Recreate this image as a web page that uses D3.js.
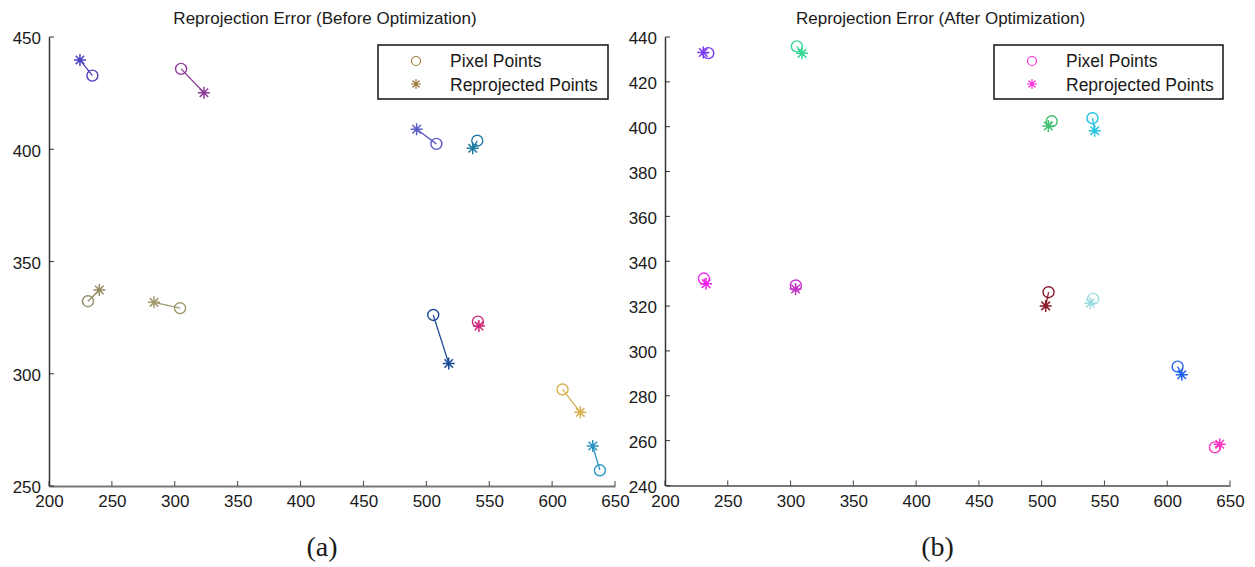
<!DOCTYPE html>
<html>
<head>
<meta charset="utf-8">
<script src="https://cdn.jsdelivr.net/npm/d3@7"></script>
<style>
  html, body { margin: 0; padding: 0; background: #fff; }
  svg { display: block; }
  text { font-family: "Liberation Sans", Arial, sans-serif; fill: #1a1a1a; }
  text.caption { font-family: "Liberation Serif", "Times New Roman", serif; }
</style>
</head>
<body>
<svg id="chart" width="1255" height="567"></svg>
<script>
// ---------------- data ----------------
const xTicks = [200, 250, 300, 350, 400, 450, 500, 550, 600, 650];
const yTicksBefore = [250, 300, 350, 400, 450];
const yTicksAfter = [240, 260, 280, 300, 320, 340, 360, 380, 400, 420, 440];

// measured pixel points (same in both panels)
const pixelX = [234.5, 305, 508, 540.5, 231, 304.2, 505.5, 541, 608.3, 638];
const pixelY = [432.8, 435.8, 402.4, 403.8, 332.3, 329.2, 326.2, 323.2, 293, 257];

// reprojected points before optimization
const beforeX = [224.6, 323.2, 492.3, 536.9, 240, 283.5, 517.8, 541.8, 622.4, 632.3];
const beforeY = [439.8, 425.2, 408.9, 400.4, 337.3, 331.8, 304.6, 321.3, 282.8, 267.8];

// reprojected points after optimization
const afterX = [230.5, 309.1, 505.3, 542.2, 232.7, 304, 503.2, 538.7, 611.6, 641.8];
const afterY = [433.1, 432.7, 400.3, 398.2, 330, 327.6, 320.1, 321.3, 289.4, 258.4];

const colorsBefore = ["#4a3fbd", "#8c3c98", "#5a5ac6", "#1f7aa3", "#958b62", "#a09a70",
                      "#1c4b98", "#d0287a", "#d9b04e", "#2a96c0"];
const colorsAfter = ["#7a3cf0", "#34d894", "#40c070", "#22c4e0", "#f020f0", "#c434c4",
                     "#8b1c2a", "#9cdce2", "#2062f0", "#ff34c4"];
const legendColorBefore = "#9a7a3c";
const legendColorAfter = "#ff30d8";

const titles = ["Reprojection Error (Before Optimization)", "Reprojection Error (After Optimization)"];
const captions = ["(a)", "(b)"];
const legendLabels = ["Pixel Points", "Reprojected Points"];

// ---------------- drawing ----------------
const svg = d3.select("#chart");

function starPath(r) {
  const d = r * 0.7071;
  return `M${-r},0L${r},0M0,${-r}L0,${r}M${-d},${-d}L${d},${d}M${-d},${d}L${d},${-d}`;
}

function panel(cfg) {
  const g = svg.append("g");
  const x = d3.scaleLinear().domain([200, 650]).range([cfg.left, cfg.right]);
  const y = d3.scaleLinear().domain(cfg.yDomain).range([cfg.bottom, cfg.top]);

  // axes
  const xAxis = d3.axisBottom(x).tickValues(xTicks).tickSize(0).tickPadding(9);
  const gx = g.append("g").attr("transform", `translate(0,${cfg.bottom})`).call(xAxis);
  gx.select(".domain").attr("stroke", "#777").attr("stroke-width", 2);
  gx.selectAll("text").attr("font-size", 17).attr("fill", "#1a1a1a")
    .attr("font-family", "Liberation Sans, Arial, sans-serif");
  // inward x ticks
  g.append("g").selectAll("line").data(xTicks).join("line")
    .attr("x1", d => x(d)).attr("x2", d => x(d))
    .attr("y1", cfg.bottom).attr("y2", cfg.bottom - 5)
    .attr("stroke", "#444").attr("stroke-width", 1);

  const yAxis = d3.axisLeft(y).tickValues(cfg.yTicks).tickSize(0).tickPadding(8);
  const gy = g.append("g").attr("transform", `translate(${cfg.left},0)`).call(yAxis);
  gy.select(".domain").attr("stroke", "#333").attr("stroke-width", 1.5);
  gy.selectAll("text").attr("font-size", 17).attr("fill", "#1a1a1a").attr("dy", "0.4em")
    .attr("font-family", "Liberation Sans, Arial, sans-serif");
  g.append("g").selectAll("line").data(cfg.yTicks).join("line")
    .attr("x1", cfg.left).attr("x2", cfg.left + 5)
    .attr("y1", d => y(d)).attr("y2", d => y(d))
    .attr("stroke", "#333").attr("stroke-width", 1);

  // title
  g.append("text").attr("x", (cfg.left + cfg.right) / 2 - 7).attr("y", 24)
    .attr("text-anchor", "middle").attr("font-size", 17).text(cfg.title);

  // caption
  g.append("text").attr("class", "caption")
    .attr("x", (cfg.left + cfg.right) / 2 - 10).attr("y", 556)
    .attr("text-anchor", "middle").attr("font-size", 28)
    .text(cfg.caption);

  // data
  const idx = d3.range(pixelX.length);
  const marks = g.append("g");
  marks.selectAll("line.err").data(idx).join("line").attr("class", "err")
    .attr("x1", i => x(pixelX[i])).attr("y1", i => y(pixelY[i]))
    .attr("x2", i => x(cfg.rx[i])).attr("y2", i => y(cfg.ry[i]))
    .attr("stroke", i => cfg.colors[i]).attr("stroke-width", 1.3);
  marks.selectAll("circle").data(idx).join("circle")
    .attr("cx", i => x(pixelX[i])).attr("cy", i => y(pixelY[i])).attr("r", 5.5)
    .attr("fill", "none").attr("stroke", i => cfg.colors[i]).attr("stroke-width", 1.4);
  marks.selectAll("path.star").data(idx).join("path").attr("class", "star")
    .attr("transform", i => `translate(${x(cfg.rx[i])},${y(cfg.ry[i])})`)
    .attr("d", starPath(6))
    .attr("fill", "none").attr("stroke", i => cfg.colors[i]).attr("stroke-width", 1.5);

  // legend
  const lg = g.append("g");
  lg.append("rect").attr("x", cfg.legendX).attr("y", 45)
    .attr("width", cfg.legendW).attr("height", 54)
    .attr("fill", "#fff").attr("stroke", "#111").attr("stroke-width", 1.5);
  lg.append("circle").attr("cx", cfg.legendX + 38).attr("cy", 61).attr("r", 4.5)
    .attr("fill", "none").attr("stroke", cfg.legendColor).attr("stroke-width", 1.2);
  lg.append("path").attr("transform", `translate(${cfg.legendX + 38},84)`)
    .attr("d", starPath(5)).attr("fill", "none")
    .attr("stroke", cfg.legendColor).attr("stroke-width", 1.2);
  lg.selectAll("text").data(legendLabels).join("text")
    .attr("x", cfg.legendX + 72).attr("y", (d, i) => 67 + i * 24)
    .attr("font-size", 17.5).text(d => d);
}

panel({
  left: 49, right: 615, top: 37, bottom: 486,
  yDomain: [250, 450], yTicks: yTicksBefore,
  rx: beforeX, ry: beforeY, colors: colorsBefore,
  title: titles[0], caption: captions[0],
  legendX: 378, legendW: 230, legendColor: legendColorBefore
});
panel({
  left: 665, right: 1230, top: 37, bottom: 485.5,
  yDomain: [240, 440], yTicks: yTicksAfter,
  rx: afterX, ry: afterY, colors: colorsAfter,
  title: titles[1], caption: captions[1],
  legendX: 994, legendW: 229, legendColor: legendColorAfter
});
</script>
</body>
</html>
